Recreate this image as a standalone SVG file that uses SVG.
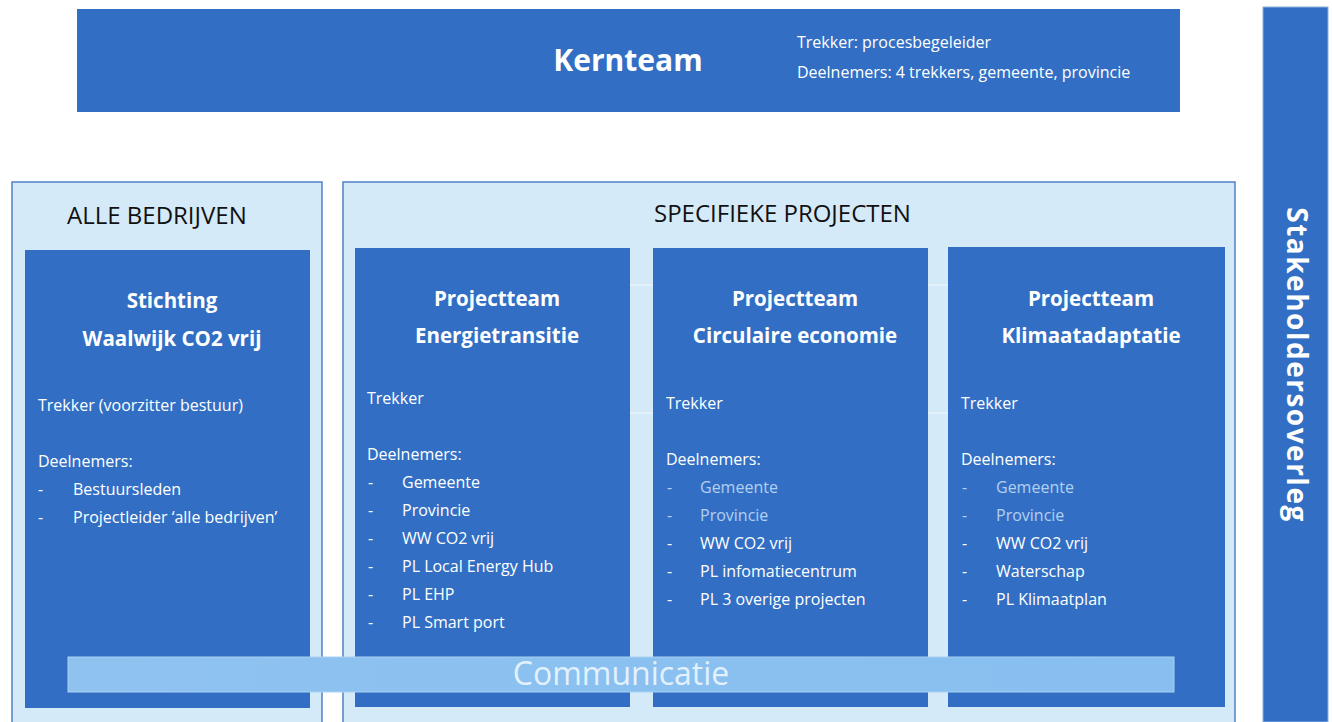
<svg xmlns="http://www.w3.org/2000/svg" width="1332" height="722" viewBox="0 0 1332 722">
<defs>
<linearGradient id="comm" x1="0" y1="0" x2="1" y2="0">
<stop offset="0" stop-color="#8fc2ef"/>
<stop offset="1" stop-color="#86bff0"/>
</linearGradient>
<style>
.dark{fill:#326fc4;}
.cont{fill:#d5eaf8;stroke:#4f82c6;stroke-width:1.5;}
.t{font-family:"Open Sans",Lato,sans-serif;fill:#ffffff;}
.h{font-family:"Open Sans",Lato,sans-serif;font-weight:bold;fill:#ffffff;font-size:20.5px;text-anchor:middle;}
.b{font-size:16px;}
.dim{fill:#b3cff0;}
.cap{font-family:"Open Sans",Lato,sans-serif;fill:#111111;font-size:24px;}
.gap{stroke:#f2f8fd;stroke-width:1;}
</style>
</defs>
<rect width="1332" height="722" fill="#ffffff"/>

<g id="kernteam">
<rect class="dark" x="77" y="9" width="1103" height="103"/>
<text class="h" x="628" y="71" style="font-size:30px">Kernteam</text>
<text class="t b" x="797" y="48">Trekker: procesbegeleider</text>
<text class="t b" x="797" y="78">Deelnemers: 4 trekkers, gemeente, provincie</text>
</g>

<g id="stakeholdersoverleg">
<rect class="dark" x="1263" y="7" width="65" height="715" stroke="#8ab4e2" stroke-width="1"/>
<text class="h" transform="translate(1287,365) rotate(90)" style="font-size:28px;letter-spacing:1.5px">Stakeholdersoverleg</text>
</g>

<g id="alle-bedrijven">
<rect class="cont" x="12" y="182" width="310" height="545"/>
<text class="cap" x="67" y="224">ALLE BEDRIJVEN</text>
</g>

<g id="specifieke-projecten">
<rect class="cont" x="343" y="182" width="892" height="545"/>
<text class="cap" x="654" y="222">SPECIFIEKE PROJECTEN</text>
<line class="gap" x1="630" y1="285" x2="653" y2="285"/>
<line class="gap" x1="630" y1="413" x2="653" y2="413"/>
<line class="gap" x1="928" y1="285" x2="948" y2="285"/>
<line class="gap" x1="928" y1="413" x2="948" y2="413"/>
</g>

<g id="stichting">
<rect class="dark" x="25" y="250" width="285" height="458"/>
<text class="h" x="172" y="308">Stichting</text>
<text class="h" x="172" y="346">Waalwijk CO2 vrij</text>
<text class="t b" x="38" y="411">Trekker (voorzitter bestuur)</text>
<text class="t b" x="38" y="467">Deelnemers:</text>
<text class="t b" x="38" y="495">-</text>
<text class="t b" x="73" y="495">Bestuursleden</text>
<text class="t b" x="38" y="523">-</text>
<text class="t b" x="73" y="523">Projectleider ‘alle bedrijven’</text>
</g>

<g id="energietransitie">
<rect class="dark" x="355" y="248" width="275" height="459"/>
<text class="h" x="497" y="306">Projectteam</text>
<text class="h" x="497" y="343">Energietransitie</text>
<text class="t b" x="367" y="404">Trekker</text>
<text class="t b" x="367" y="460">Deelnemers:</text>
<text class="t b" x="368" y="488">-</text><text class="t b" x="402" y="488">Gemeente</text>
<text class="t b" x="368" y="516">-</text><text class="t b" x="402" y="516">Provincie</text>
<text class="t b" x="368" y="544">-</text><text class="t b" x="402" y="544">WW CO2 vrij</text>
<text class="t b" x="368" y="572">-</text><text class="t b" x="402" y="572">PL Local Energy Hub</text>
<text class="t b" x="368" y="600">-</text><text class="t b" x="402" y="600">PL EHP</text>
<text class="t b" x="368" y="628">-</text><text class="t b" x="402" y="628">PL Smart port</text>
</g>

<g id="circulaire-economie">
<rect class="dark" x="653" y="248" width="275" height="459"/>
<text class="h" x="795" y="306">Projectteam</text>
<text class="h" x="795" y="343">Circulaire economie</text>
<text class="t b" x="666" y="409">Trekker</text>
<text class="t b" x="666" y="465">Deelnemers:</text>
<text class="t b dim" x="667" y="493">-</text><text class="t b dim" x="700" y="493">Gemeente</text>
<text class="t b dim" x="667" y="521">-</text><text class="t b dim" x="700" y="521">Provincie</text>
<text class="t b" x="667" y="549">-</text><text class="t b" x="700" y="549">WW CO2 vrij</text>
<text class="t b" x="667" y="577">-</text><text class="t b" x="700" y="577">PL infomatiecentrum</text>
<text class="t b" x="667" y="605">-</text><text class="t b" x="700" y="605">PL 3 overige projecten</text>
</g>

<g id="klimaatadaptatie">
<rect class="dark" x="948" y="247" width="277" height="460"/>
<text class="h" x="1091" y="306">Projectteam</text>
<text class="h" x="1091" y="343">Klimaatadaptatie</text>
<text class="t b" x="961" y="409">Trekker</text>
<text class="t b" x="961" y="465">Deelnemers:</text>
<text class="t b dim" x="962" y="493">-</text><text class="t b dim" x="996" y="493">Gemeente</text>
<text class="t b dim" x="962" y="521">-</text><text class="t b dim" x="996" y="521">Provincie</text>
<text class="t b" x="962" y="549">-</text><text class="t b" x="996" y="549">WW CO2 vrij</text>
<text class="t b" x="962" y="577">-</text><text class="t b" x="996" y="577">Waterschap</text>
<text class="t b" x="962" y="605">-</text><text class="t b" x="996" y="605">PL Klimaatplan</text>
</g>

<g id="communicatie">
<rect x="68" y="657" width="1106" height="35" fill="url(#comm)" stroke="#a9d2f4" stroke-width="1"/>
<text x="621" y="685" style="font-family:'Open Sans',Lato,sans-serif;font-size:32px;fill:#e3f1fd;text-anchor:middle">Communicatie</text>
</g>

<g id="connectors"></g>
</svg>
